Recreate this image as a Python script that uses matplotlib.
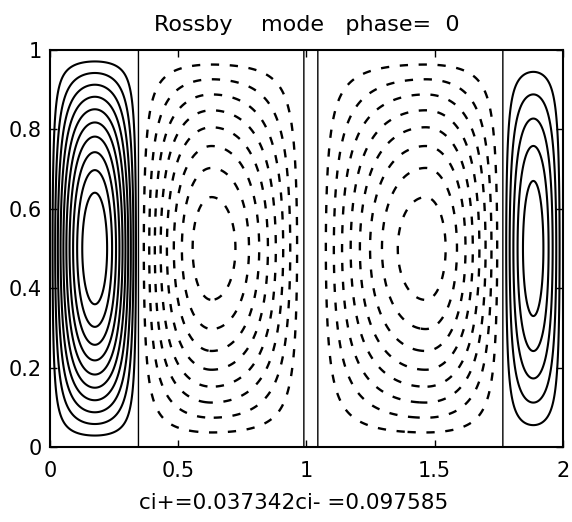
import numpy as np
import matplotlib
matplotlib.use("Agg")
import matplotlib.pyplot as plt

# --- data ---
# cells of the streamfunction: edges in x, peak position and amplitude
cell_left = [0.0, 0.345, 0.990, 1.045, 1.766]
cell_right = [0.345, 0.990, 1.045, 1.766, 2.0]
cell_peak = [0.175, 0.630, 1.018, 1.465, 1.885]
cell_amp = [0.413, -0.850, 0.020, -0.850, 0.217]

ci_pos = 0.037342
ci_neg = 0.097585
n_pos = 10
n_neg = 9

xticks = [0, 0.5, 1, 1.5, 2]
xticklabels = ["0", "0.5", "1", "1.5", "2"]
yticks = [0, 0.2, 0.4, 0.6, 0.8, 1]
yticklabels = ["0", "0.2", "0.4", "0.6", "0.8", "1"]

title = "Rossby    mode   phase=  0"
xlabel = "ci+=0.037342ci- =0.097585"

plt.rcParams["font.family"] = ["DejaVu Sans"]

# build the field on a grid (offset so zero lines are not on grid points)
x = np.linspace(0.0004, 1.9996, 900)
y = np.linspace(0.0004, 0.9996, 500)
X, Y = np.meshgrid(x, y)
psi = np.zeros_like(X)
for a, b, c, amp in zip(cell_left, cell_right, cell_peak, cell_amp):
    m = (X >= a) & (X < b)
    u = np.where(X < c, 0.5 * (X - a) / (c - a), 0.5 + 0.5 * (X - c) / (b - c))
    psi[m] = (amp * np.sin(np.pi * u) * np.sin(np.pi * Y))[m]

pos_levels = ci_pos * np.arange(1, n_pos + 1)
neg_levels = -ci_neg * np.arange(n_neg, 0, -1)

fig = plt.figure(figsize=(5.72, 5.22), dpi=100)
ax = fig.add_axes([0.0874, 0.1437, 0.8966, 0.7605])

ax.contour(X, Y, psi, levels=pos_levels, colors="black", linewidths=1.5,
           linestyles="solid")
ax.contour(X, Y, psi, levels=neg_levels, colors="black", linewidths=1.7,
           linestyles=[(0, (3.5, 4.5))])
ax.contour(X, Y, psi, levels=[0], colors="black", linewidths=1.0,
           linestyles="solid")

ax.set_xlim(0, 2)
ax.set_ylim(0, 1)
ax.set_xticks(xticks)
ax.set_xticklabels(xticklabels)
ax.set_yticks(yticks)
ax.set_yticklabels(yticklabels)
ax.tick_params(axis="both", direction="in", top=True, right=True, length=5,
               width=1, labelsize=15)
ax.tick_params(axis="x", pad=10)
ax.tick_params(axis="y", pad=6)
for s in ax.spines.values():
    s.set_linewidth(1.5)

ax.set_title(title, fontsize=16, pad=14)
ax.set_xlabel(xlabel, fontsize=15.5, labelpad=8)
ax.xaxis.set_label_coords(0.476, -0.115)

fig.savefig("out.png", dpi=100)
